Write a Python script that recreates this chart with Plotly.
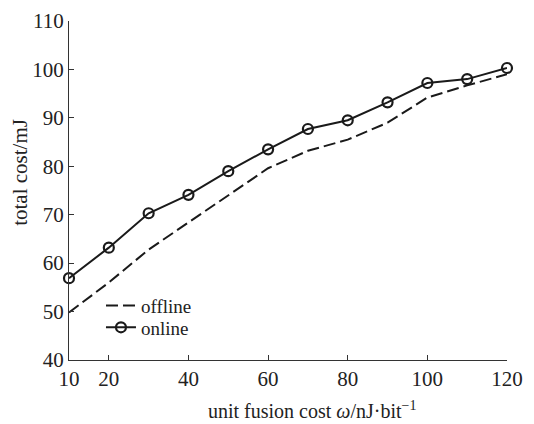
import plotly.graph_objects as go

x_vals = [10, 20, 30, 40, 50, 60, 70, 80, 90, 100, 110, 120]
offline = [49.8, 56.0, 62.8, 68.4, 73.9, 79.6, 83.2, 85.5, 89.0, 94.2, 96.7, 99.0]
online = [56.9, 63.2, 70.3, 74.1, 79.0, 83.5, 87.7, 89.5, 93.2, 97.2, 98.0, 100.3]
x_ticks = [10, 20, 40, 60, 80, 100, 120]
y_ticks = [40, 50, 60, 70, 80, 90, 100, 110]
x_title = "unit fusion cost <i>ω</i>/nJ·bit<sup>−1</sup>"
y_title = "total cost/mJ"

font_family = "Liberation Serif, Times New Roman, serif"
ink = "#1a1a1a"
text_col = "#222"

fig = go.Figure()
fig.add_trace(go.Scatter(
    x=x_vals, y=offline, mode="lines", name="offline",
    line=dict(color=ink, width=2, dash="12px,5px"),
    cliponaxis=False, legend="legend",
))
fig.add_trace(go.Scatter(
    x=x_vals, y=online, mode="lines+markers", name="online",
    line=dict(color=ink, width=2),
    marker=dict(symbol="circle-open", size=10, color=ink, line=dict(width=2.2, color=ink)),
    cliponaxis=False, legend="legend2",
))

legend_common = dict(
    xanchor="left", yanchor="middle",
    bgcolor="rgba(0,0,0,0)", font=dict(size=19, family=font_family, color=text_col),
    itemwidth=30, borderwidth=0,
)

# the page body has an 8px margin, so the figure is offset by 8px
fig.update_layout(
    width=518, height=416,
    margin=dict(l=61, r=19, t=13, b=64),
    paper_bgcolor="white", plot_bgcolor="white",
    font=dict(family=font_family, size=21, color=text_col),
    showlegend=True,
    legend=dict(x=0.073, y=0.160, **legend_common),
    legend2=dict(x=0.073, y=0.096, **legend_common),
    xaxis=dict(
        range=[10, 120], tickmode="array", tickvals=x_ticks,
        ticks="inside", ticklen=5, tickcolor="#333",
        showline=True, linecolor="#333", linewidth=1.2,
        showgrid=False, zeroline=False, automargin=False,
        tickfont=dict(size=21),
    ),
    yaxis=dict(
        range=[40, 110], tickmode="array", tickvals=y_ticks,
        ticks="inside", ticklen=5, tickcolor="#333",
        showline=True, linecolor="#333", linewidth=1.2,
        showgrid=False, zeroline=False, automargin=False,
        tickfont=dict(size=21),
    ),
    annotations=[
        dict(text=x_title, xref="paper", yref="paper", x=0.555, y=-0.1475,
             xanchor="center", yanchor="middle", showarrow=False,
             font=dict(size=20, family=font_family, color=text_col)),
        dict(text=y_title, xref="paper", yref="paper", x=-0.112, y=0.555,
             xanchor="center", yanchor="middle", showarrow=False, textangle=-90,
             font=dict(size=21, family=font_family, color=text_col)),
    ],
)

fig.write_html("out.html")
